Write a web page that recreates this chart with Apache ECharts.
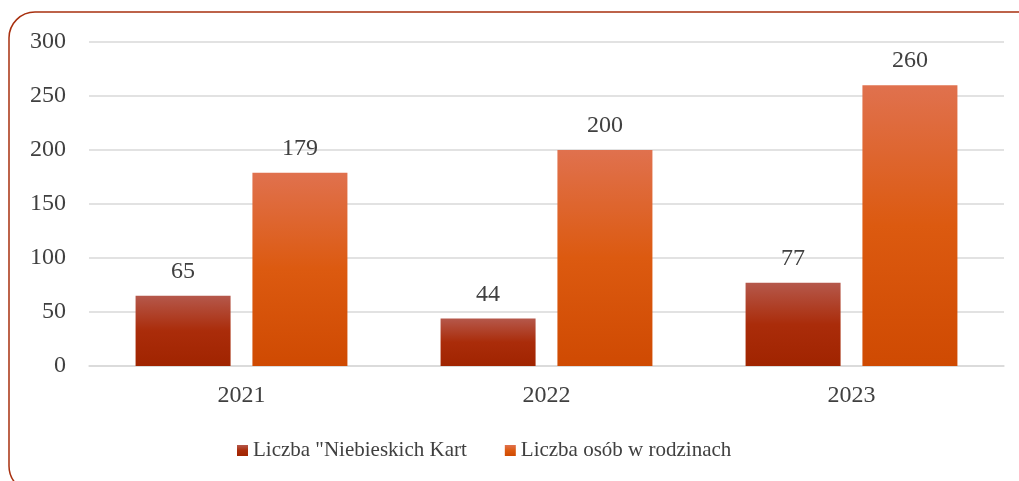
<!DOCTYPE html>
<html>
<head>
<meta charset="utf-8">
<script src="https://cdn.jsdelivr.net/npm/echarts@6/dist/echarts.min.js"></script>
<style>
  html, body { margin: 0; padding: 0; background: #fff; }
  #chart { width: 1019px; height: 481px; }
</style>
</head>
<body>
<div id="chart"></div>
<script>
var years = ['2021', '2022', '2023']
var karty = [65, 44, 77]
var osoby = [179, 200, 260]
var seriesNames = ['Liczba "Niebieskich Kart', 'Liczba osób w rodzinach']

var font = 'Liberation Serif'

function grad(top, mid, bottom) {
  return new echarts.graphic.LinearGradient(0, 0, 0, 1, [
    { offset: 0, color: top },
    { offset: 0.5, color: mid },
    { offset: 1, color: bottom }
  ])
}

var chart = echarts.init(document.getElementById('chart'))
chart.setOption({
  animation: false,
  textStyle: { fontFamily: font },
  graphic: [{
    type: 'rect',
    shape: { x: 9, y: 12, width: 1040, height: 480, r: 26 },
    style: { fill: 'none', stroke: '#a8300f', lineWidth: 1.5 },
    silent: true
  }],
  legend: {
    data: seriesNames,
    bottom: 15,
    left: 232,
    itemWidth: 11,
    itemHeight: 11,
    itemGap: 38,
    icon: 'rect',
    textStyle: { fontFamily: font, fontSize: 21, color: '#404040' }
  },
  grid: { left: 89, right: 15, top: 42, bottom: 115 },
  xAxis: {
    type: 'category',
    data: years,
    axisTick: { show: false },
    axisLine: { lineStyle: { color: '#d9d9d9', width: 1.5 } },
    axisLabel: { margin: 18, fontSize: 24, color: '#404040', fontFamily: font }
  },
  yAxis: {
    type: 'value',
    min: 0,
    max: 300,
    interval: 50,
    axisLabel: { margin: 23, fontSize: 24, color: '#404040', fontFamily: font },
    splitLine: { lineStyle: { color: '#d9d9d9', width: 1.5 } }
  },
  series: [{
    name: seriesNames[0],
    type: 'bar',
    data: karty,
    barWidth: 95,
    barGap: '23%',
    itemStyle: { color: grad('#b5584b', '#aa2c0a', '#a02400') },
    label: { show: true, position: 'top', distance: 12, fontSize: 24, color: '#404040', fontFamily: font }
  }, {
    name: seriesNames[1],
    type: 'bar',
    data: osoby,
    barWidth: 95,
    itemStyle: { color: grad('#e0714e', '#dc5a10', '#cf4a02') },
    label: { show: true, position: 'top', distance: 12, fontSize: 24, color: '#404040', fontFamily: font }
  }]
})
</script>
</body>
</html>
